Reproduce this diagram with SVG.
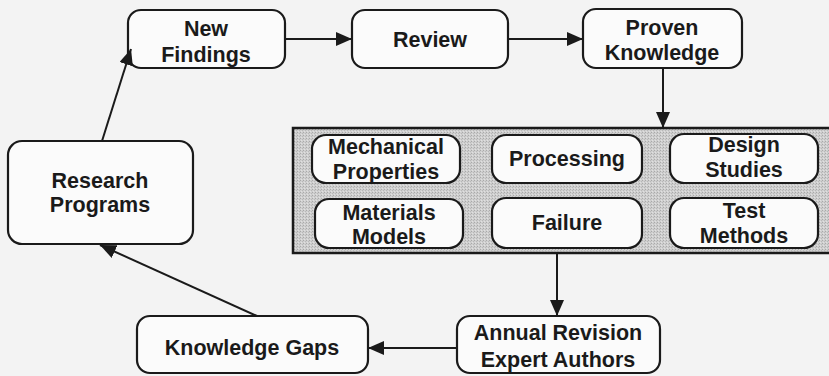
<svg xmlns="http://www.w3.org/2000/svg" width="829" height="376" viewBox="0 0 829 376">
  <style>
    .box { fill: #fbfbfb; stroke: #1a1a1a; stroke-width: 2.2; }
    .label { font-family: "Liberation Sans", Arial, Helvetica, sans-serif; font-weight: bold; font-size: 21.5px; fill: #1a1a1a; text-anchor: middle; }
    .link { stroke: #1a1a1a; stroke-width: 2; fill: none; marker-end: url(#head); }
  </style>
  <defs>
    <marker id="head" markerUnits="userSpaceOnUse" markerWidth="17" markerHeight="14" refX="16" refY="7" orient="auto">
      <path d="M0,0 L16,7 L0,14 z" fill="#1a1a1a"/>
    </marker>
    <!-- stippled grey fill for the topic panel -->
    <pattern id="stipple" width="3" height="3" patternUnits="userSpaceOnUse">
      <rect width="3" height="3" fill="#cfcfcf"/>
      <rect width="1" height="1" fill="#a9a9a9"/>
      <rect x="2" y="1" width="1" height="1" fill="#b8b8b8"/>
      <rect x="1" y="2" width="1" height="1" fill="#e0e0e0"/>
    </pattern>
  </defs>

  <rect width="829" height="376" fill="#f3f3f3"/>

  <!-- topic panel -->
  <g id="topic-panel">
    <rect x="293" y="128" width="540" height="125" fill="url(#stipple)" stroke="#1a1a1a" stroke-width="2.5"/>
  </g>

  <g id="new-findings">
    <rect class="box" x="128" y="10" width="157" height="58" rx="13"/>
    <text class="label" x="206" y="36">New</text>
    <text class="label" x="206" y="62">Findings</text>
  </g>

  <g id="review">
    <rect class="box" x="352" y="10" width="156" height="58" rx="13"/>
    <text class="label" x="430" y="47">Review</text>
  </g>

  <g id="proven-knowledge">
    <rect class="box" x="583" y="9" width="159" height="59" rx="13"/>
    <text class="label" x="662" y="35">Proven</text>
    <text class="label" x="662" y="60">Knowledge</text>
  </g>

  <g id="research-programs">
    <rect class="box" x="8" y="141" width="185" height="103" rx="14"/>
    <text class="label" x="100" y="188">Research</text>
    <text class="label" x="100" y="212">Programs</text>
  </g>

  <g id="mechanical-properties">
    <rect class="box" x="312" y="135" width="148" height="48" rx="14"/>
    <text class="label" x="386" y="154">Mechanical</text>
    <text class="label" x="386" y="179">Properties</text>
  </g>

  <g id="processing">
    <rect class="box" x="492" y="135" width="150" height="48" rx="14"/>
    <text class="label" x="567" y="166">Processing</text>
  </g>

  <g id="design-studies">
    <rect class="box" x="670" y="134" width="148" height="49" rx="14"/>
    <text class="label" x="744" y="152">Design</text>
    <text class="label" x="744" y="177">Studies</text>
  </g>

  <g id="materials-models">
    <rect class="box" x="315" y="199" width="148" height="49" rx="14"/>
    <text class="label" x="389" y="220">Materials</text>
    <text class="label" x="389" y="244">Models</text>
  </g>

  <g id="failure">
    <rect class="box" x="492" y="198" width="150" height="50" rx="14"/>
    <text class="label" x="567" y="230">Failure</text>
  </g>

  <g id="test-methods">
    <rect class="box" x="670" y="198" width="148" height="50" rx="14"/>
    <text class="label" x="744" y="218">Test</text>
    <text class="label" x="744" y="243">Methods</text>
  </g>

  <g id="annual-revision">
    <rect class="box" x="457" y="316" width="203" height="57" rx="13"/>
    <text class="label" x="558" y="340">Annual Revision</text>
    <text class="label" x="558" y="367">Expert Authors</text>
  </g>

  <g id="knowledge-gaps">
    <rect class="box" x="137" y="316" width="231" height="57" rx="13"/>
    <text class="label" x="252" y="355">Knowledge Gaps</text>
  </g>

  <g id="connectors">
    <line class="link" x1="285" y1="39" x2="352" y2="39"/>
    <line class="link" x1="508" y1="39" x2="583" y2="39"/>
    <line class="link" x1="663" y1="68" x2="663" y2="128"/>
    <line class="link" x1="557" y1="253" x2="557" y2="316"/>
    <line class="link" x1="457" y1="348" x2="368" y2="348"/>
    <line class="link" x1="257" y1="316" x2="100" y2="245"/>
    <line class="link" x1="102" y1="141" x2="131" y2="49"/>
  </g>
</svg>
